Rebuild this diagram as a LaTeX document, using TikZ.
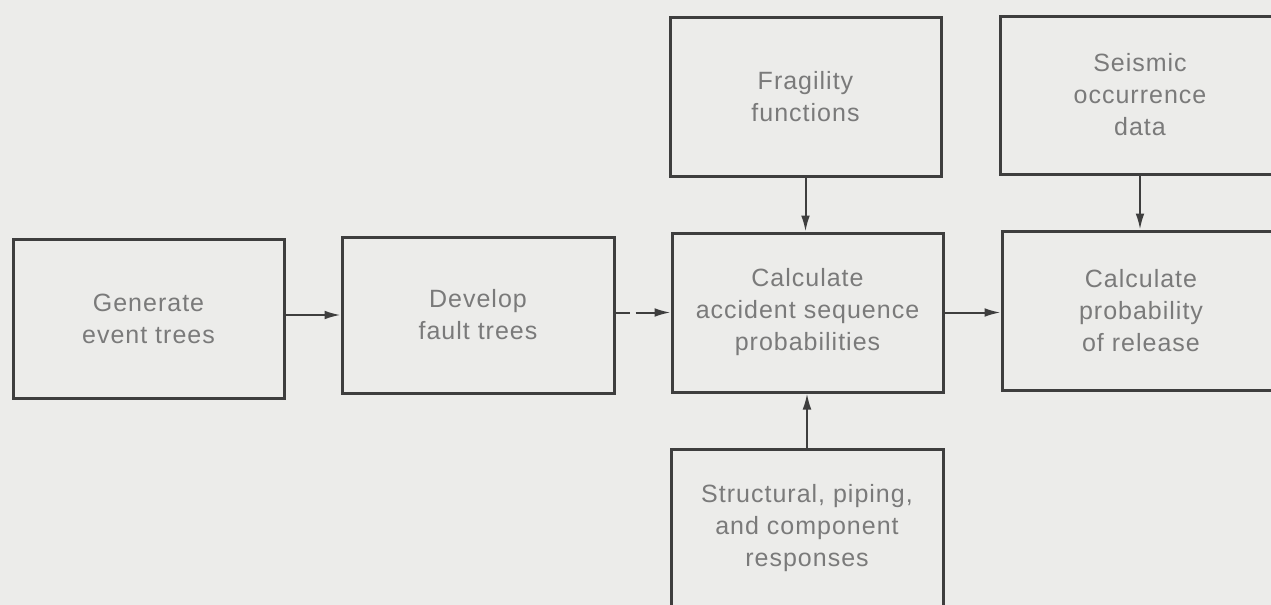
\documentclass[tikz,border=0pt]{standalone}
\usepackage{fontspec}
\setmainfont[LetterSpace=4]{Liberation Sans}
\usetikzlibrary{arrows.meta}
\definecolor{paper}{RGB}{236,236,234}
\definecolor{ink}{RGB}{62,62,62}
\definecolor{lettering}{RGB}{122,122,122}
\begin{document}
\begin{tikzpicture}[x=0.5pt,y=-0.5pt,
  stepbox/.style={draw=ink, line width=1.5pt, rectangle, inner sep=0pt,
    text=lettering, align=center,
    font=\fontsize{12.5pt}{16pt}\selectfont},
  flow/.style={draw=ink, line width=1pt,
    -{Latex[length=8pt,width=4.4pt]}}]
  % sheet
  \useasboundingbox (0,0) rectangle (1271,605);
  \fill[paper] (0,0) rectangle (1271,605);
  \clip (0,0) rectangle (1271,605);

  % boxes (sizes given in picture units)
  \node[stepbox, minimum width=135.5pt, minimum height=79.5pt] (gen)
    at (148.5,318.5) {Generate\\event trees};
  \node[stepbox, minimum width=136pt, minimum height=78pt] (fault)
    at (478,315) {Develop\\fault trees};
  \node[stepbox, minimum width=135.5pt, minimum height=79.5pt] (calc)
    at (807.5,312.5) {Calculate\\accident sequence\\probabilities};
  \node[stepbox, minimum width=135.5pt, minimum height=79.5pt] (frag)
    at (805.5,96.5) {Fragility\\functions};
  \node[stepbox, minimum width=140pt, minimum height=79pt] (seis)
    at (1140,95) {Seismic\\occurrence\\data};
  \node[stepbox, minimum width=139pt, minimum height=79.5pt] (rel)
    at (1141,310.5) {Calculate\\probability\\of release};
  \node[stepbox, minimum width=136pt, minimum height=79.5pt] (struct)
    at (807,528.5) {Structural, piping,\\and component\\responses};

  % connectors
  \draw[flow] (gen.east |- fault.west) -- (fault.west);
  \draw[flow, dash pattern=on 7pt off 3pt on 40pt off 0pt]
    (fault.east |- calc.west) -- (calc.west);
  \draw[flow] (calc.east) -- (calc.east -| rel.west);
  \draw[flow] (frag.south) -- (frag.south |- calc.north);
  \draw[flow] (seis.south) -- (seis.south |- rel.north);
  \draw[flow] (struct.north) -- (struct.north |- calc.south);
\end{tikzpicture}
\end{document}
